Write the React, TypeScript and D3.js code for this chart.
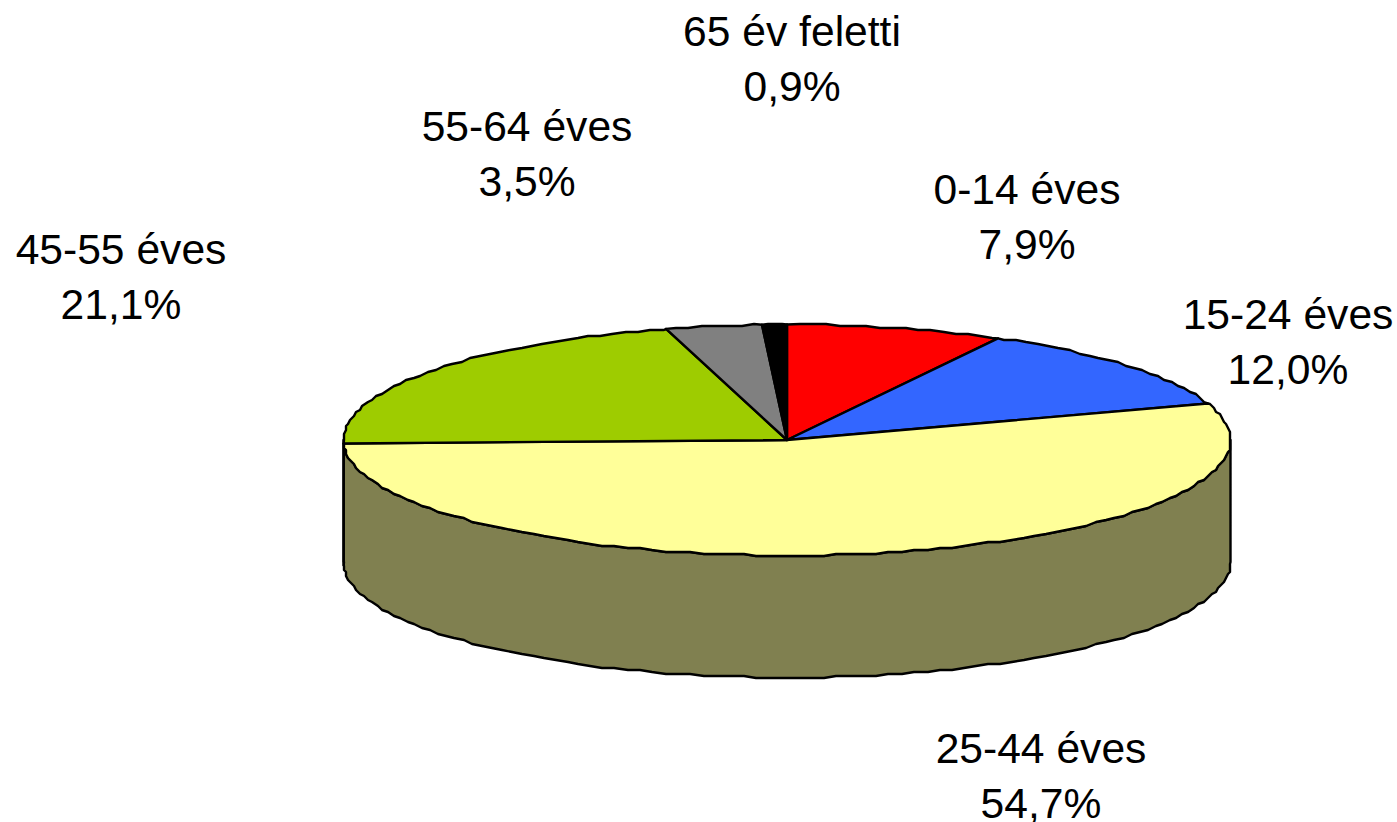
import React from "react";
import * as d3 from "d3";

const labels = ["0-14 éves", "15-24 éves", "25-44 éves", "45-55 éves", "55-64 éves", "65 év feletti"];
const values = [7.9, 12.0, 54.7, 21.1, 3.5, 0.9];
const valueLabels = ["7,9%", "12,0%", "54,7%", "21,1%", "3,5%", "0,9%"];
const topColors = ["#ff0000", "#3366ff", "#ffff99", "#9ecc00", "#808080", "#000000"];
const wallColors = ["#800000", "#1a3380", "#808050", "#4d6600", "#404040", "#000000"];
const labelX = [1027, 1288, 1041, 121, 527, 792];
const labelY = [204, 329, 763, 264, 141, 46];

const W = 1397;
const H = 822;
const cx = 787;
const cy = 440;
const rx = 443.5;
const ry = 115.5;
const depth = 122;
const LINE_H = 55;
// the rim in the source is a low-res polygon, so snap its points to a coarse grid
const GRID = 2;
const STEP = 0.03;

export default function App() {
  const arcs = d3.pie<number>().sort(null).startAngle(0).endAngle(2 * Math.PI)(values);

  // unit circle -> flattened ellipse on screen
  const sx = d3.scaleLinear().domain([-1, 1]).range([cx - rx, cx + rx]);
  const sy = d3.scaleLinear().domain([-1, 1]).range([cy - ry, cy + ry]);
  const snap = (v: number) => Math.round(v / GRID) * GRID;
  const px = (a: number) => sx(Math.sin(a));
  const py = (a: number) => sy(-Math.cos(a));
  const line = d3.line<[number, number]>().curve(d3.curveLinear);

  // sampled on a fixed angle grid so slice tops and walls share the same rim points
  const edge = (a0: number, a1: number) => {
    const inner = d3.range(Math.floor(a0 / STEP) + 1, Math.ceil(a1 / STEP)).map(k => {
      const a = k * STEP;
      return [snap(px(a)), snap(py(a))] as [number, number];
    });
    return [[px(a0), py(a0)] as [number, number], ...inner, [px(a1), py(a1)] as [number, number]];
  };

  const slicePath = (a0: number, a1: number) =>
    line([[cx, cy], ...edge(a0, a1)]) + "Z";

  const wallPath = (a0: number, a1: number) => {
    const lo = Math.max(a0, Math.PI / 2);
    const hi = Math.min(a1, (3 * Math.PI) / 2);
    if (hi <= lo) return null;
    const top = edge(lo, hi);
    const bottom = top.map(([x, y]) => [x, y + depth] as [number, number]).reverse();
    return line([...top, ...bottom]) + "Z";
  };

  return (
    <svg
      width={W}
      height={H}
      style={{ position: "absolute", left: 0, top: 0, background: "#fff" }}
      fontFamily="'Liberation Sans', Arial, sans-serif"
      fontSize={42.6}
    >
      {arcs.map((d, i) => {
        const p = wallPath(d.startAngle, d.endAngle);
        return p ? <path key={i} d={p} fill={wallColors[i]} stroke="#000" strokeWidth={2.4} strokeLinejoin="round" /> : null;
      })}
      {arcs.map((d, i) => (
        <path key={i} d={slicePath(d.startAngle, d.endAngle)} fill={topColors[i]} stroke="#000" strokeWidth={2.4} strokeLinejoin="round" />
      ))}
      {labels.map((t, i) => (
        <text key={t} textAnchor="middle" fill="#000">
          <tspan x={labelX[i]} y={labelY[i]}>{t}</tspan>
          <tspan x={labelX[i]} y={labelY[i] + LINE_H}>{valueLabels[i]}</tspan>
        </text>
      ))}
    </svg>
  );
}
